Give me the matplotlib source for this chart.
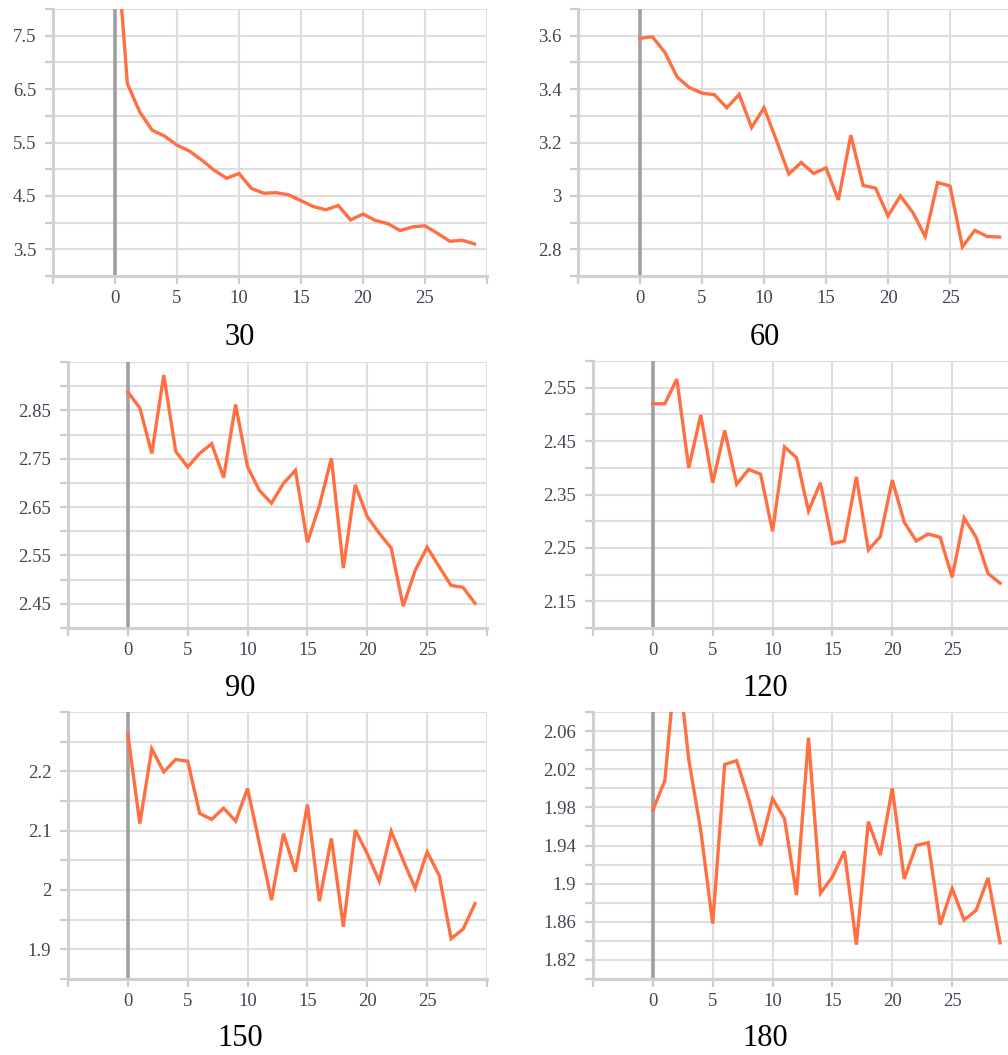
import numpy as np
import matplotlib
matplotlib.use("Agg")
import matplotlib.pyplot as plt

plt.rcParams['font.family'] = ['Liberation Serif', 'DejaVu Serif']

# epochs 0..29
epochs = list(range(30))

# 각 패널 데이터
loss_30 = [9.64, 6.60, 6.07, 5.73, 5.62, 5.45, 5.34, 5.17, 4.98, 4.83,
           4.92, 4.64, 4.55, 4.56, 4.52, 4.41, 4.30, 4.24, 4.32, 4.05,
           4.16, 4.04, 3.98, 3.85, 3.92, 3.94, 3.80, 3.65, 3.67, 3.60]
loss_60 = [3.590, 3.596, 3.538, 3.445, 3.405, 3.385, 3.379, 3.330, 3.380, 3.256,
           3.330, 3.209, 3.082, 3.125, 3.084, 3.105, 2.985, 3.227, 3.039, 3.029,
           2.925, 3.000, 2.938, 2.848, 3.050, 3.037, 2.809, 2.871, 2.848, 2.846]
loss_90 = [2.888, 2.855, 2.761, 2.923, 2.765, 2.733, 2.761, 2.781, 2.711, 2.862,
           2.733, 2.684, 2.658, 2.699, 2.726, 2.577, 2.653, 2.751, 2.524, 2.696,
           2.630, 2.596, 2.565, 2.445, 2.519, 2.567, 2.527, 2.488, 2.484, 2.451]
loss_120 = [2.520, 2.520, 2.566, 2.400, 2.499, 2.372, 2.470, 2.369, 2.397, 2.388,
            2.281, 2.439, 2.419, 2.319, 2.372, 2.258, 2.263, 2.383, 2.246, 2.271,
            2.377, 2.298, 2.263, 2.276, 2.270, 2.195, 2.306, 2.270, 2.202, 2.184]
loss_150 = [2.262, 2.112, 2.238, 2.199, 2.220, 2.217, 2.129, 2.119, 2.138, 2.116,
            2.171, 2.077, 1.983, 2.095, 2.031, 2.144, 1.981, 2.087, 1.938, 2.101,
            2.061, 2.015, 2.099, 2.050, 2.003, 2.064, 2.025, 1.918, 1.934, 1.977]
loss_180 = [1.977, 2.008, 2.145, 2.030, 1.956, 1.858, 2.025, 2.029, 1.989, 1.940,
            1.989, 1.968, 1.888, 2.053, 1.890, 1.907, 1.934, 1.836, 1.965, 1.930,
            2.000, 1.905, 1.940, 1.943, 1.857, 1.895, 1.862, 1.872, 1.906, 1.838]

captions = ['30', '60', '90', '120', '150', '180']
series = [loss_30, loss_60, loss_90, loss_120, loss_150, loss_180]

# y축 범위, 격자 간격
y_ranges = [(3.0, 8.0), (2.7, 3.7), (2.40, 2.95), (2.10, 2.60), (1.85, 2.30), (1.80, 2.08)]
y_steps = [0.5, 0.1, 0.05, 0.05, 0.05, 0.02]

W, H = 1008, 1055
# 픽셀 단위 축 위치 (left, top, right, bottom)
boxes = [(53, 9, 487, 276), (578, 9, 1012, 276),
         (68, 362, 487, 628), (593, 361, 1012, 628),
         (68, 712, 487, 979), (593, 712, 1012, 979)]
caption_pos = [(240, 337), (765, 337), (240, 688), (765, 688), (240, 1038), (765, 1038)]

LINE = '#ff6f42'
GRID = '#dedede'

fig = plt.figure(figsize=(W / 100, H / 100), dpi=100)

for i, values in enumerate(series):
    l, t, r, b = boxes[i]
    ax = fig.add_axes([l / W, 1 - b / H, (r - l) / W, (b - t) / H])

    ymin, ymax = y_ranges[i]
    step = y_steps[i]
    n = int(round((ymax - ymin) / step))
    yt = [ymin + k * step for k in range(n + 1)]
    # 하나 건너 라벨, 맨 위 격자는 라벨 없음
    ylabels = ['%g' % round(v, 3) if k % 2 == 1 and k < n else ''
               for k, v in enumerate(yt)]

    xt = list(range(-5, 31, 5))
    xlabels = [str(v) if 0 <= v <= 25 else '' for v in xt]

    ax.set_xlim(-5, 30)
    ax.set_ylim(ymin, ymax)
    ax.set_xticks(xt)
    ax.set_xticklabels(xlabels)
    ax.set_yticks(yt)
    ax.set_yticklabels(ylabels)

    ax.grid(True, color=GRID, linewidth=1.5)
    ax.axvline(0, color='#a0a0a0', linewidth=2.6, zorder=2)

    ax.plot(epochs, values, color=LINE, linewidth=2.4, zorder=3,
            solid_joinstyle='miter')

    for s in ['top', 'right']:
        ax.spines[s].set_visible(False)
    for s in ['left', 'bottom']:
        ax.spines[s].set_color('#d0d0d0')
        ax.spines[s].set_linewidth(2.2)

    ax.tick_params(axis='both', color='#cccccc', length=6, width=1.6,
                   labelcolor='#454552', labelsize=13.5)
    ax.tick_params(axis='y', pad=6)
    ax.tick_params(axis='x', pad=4)

    cx, cy = caption_pos[i]
    fig.text(cx / W, 1 - cy / H, captions[i], fontsize=22, ha='center', va='center')

fig.savefig('out.png', dpi=100)
